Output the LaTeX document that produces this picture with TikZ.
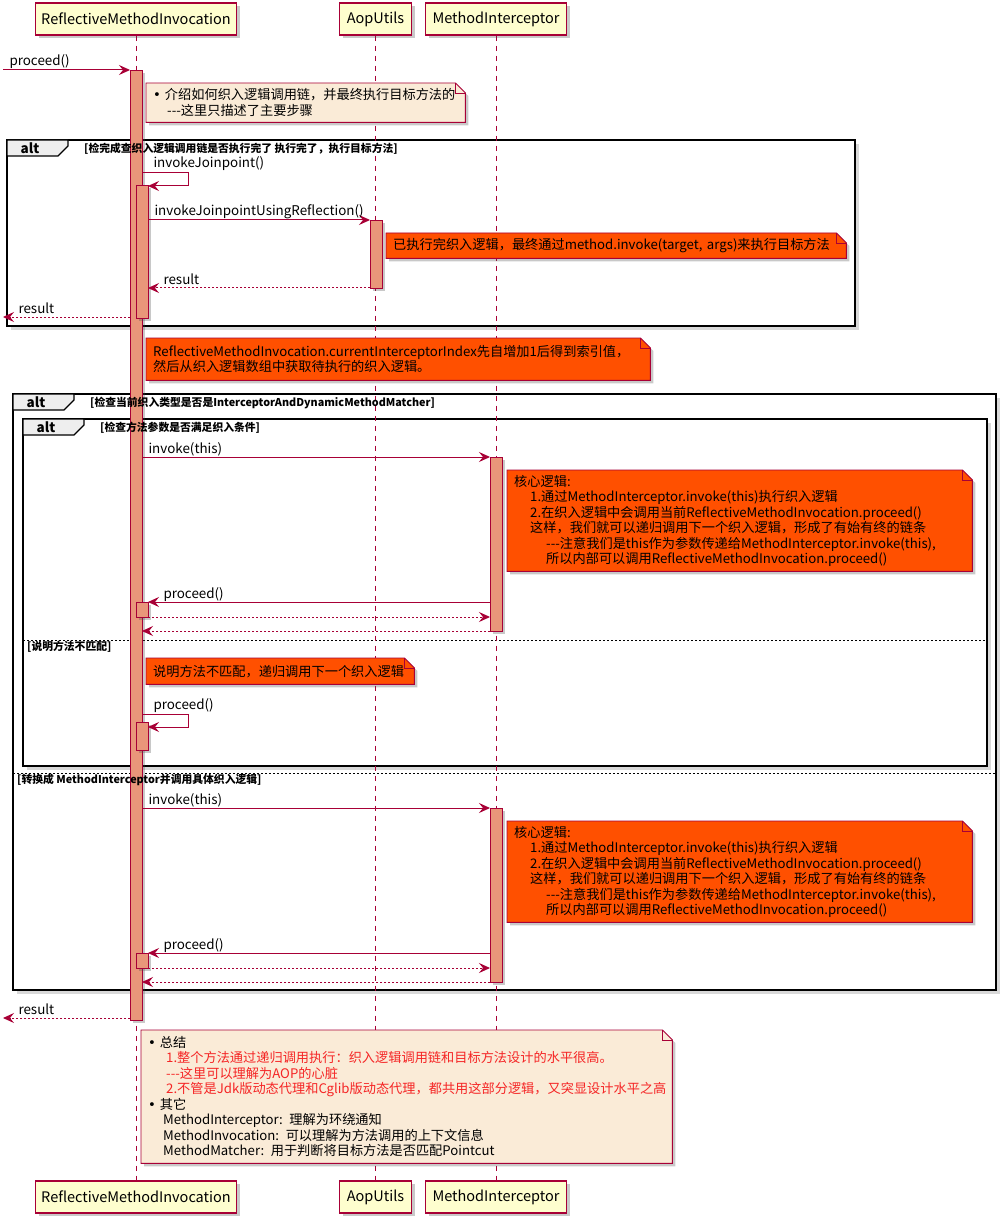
\documentclass[tikz,border=0pt]{standalone}
\usepackage{fontspec}
\newfontfamily\umlfont{Noto Sans CJK SC}
\newfontfamily\dotfont{DejaVu Sans}
\usetikzlibrary{arrows.meta, positioning, shadows}

\definecolor{umlred}{HTML}{A80036}
\definecolor{partfill}{HTML}{FEFECE}
\definecolor{actfill}{HTML}{E9967A}
\definecolor{hotnote}{HTML}{FF5000}
\definecolor{calmnote}{HTML}{FAEBD7}
\definecolor{tabfill}{HTML}{EEEEEE}
\definecolor{warnred}{HTML}{F52525}

\pgfdeclarelayer{back}
\pgfdeclarelayer{paper}
\pgfsetlayers{back,paper,main}

\tikzset{
x=1pt, y=-1pt, % one unit is one pixel of the sketch, y grows downwards
umlshadow/.style={drop shadow={shadow xshift=3pt, shadow yshift=-3pt, opacity=0.3, fill=black!70}},
participant/.style={draw=umlred, fill=partfill, line width=1.2pt, minimum height=32pt, inner sep=0pt, font=\umlfont\fontsize{14.5}{17}\selectfont, umlshadow},
lifeline/.style={umlred, line width=0.9pt, dash pattern=on 5pt off 5pt},
actbar/.style={draw=umlred, fill=actfill, line width=0.9pt, umlshadow},
msg/.style={umlred, line width=1pt, -{Stealth[length=11pt, width=10pt, inset=4pt]}},
ret/.style={msg, dash pattern=on 2pt off 2pt},
msglabel/.style={font=\umlfont\fontsize{13.4}{16}\selectfont, text=black, anchor=base west, inner sep=0pt, yshift=4pt},
calllabel/.style={msglabel, pos=0, xshift=6pt},
retlabel/.style={msglabel, pos=1, xshift=15pt},
selflabel/.style={msglabel, pos=0, xshift=11pt, yshift=1pt},
frame/.style={draw=black, line width=1.8pt, fill=white, drop shadow={shadow xshift=4pt, shadow yshift=-4pt, opacity=0.3}},
split/.style={draw=black, line width=0.8pt, dash pattern=on 2pt off 2pt},
alttab/.style={draw=black, line width=1.2pt, fill=tabfill},
altword/.style={font=\umlfont\bfseries\fontsize{13.5}{15}\selectfont, inner sep=0pt},
guard/.style={font=\umlfont\bfseries\fontsize{10.8}{13}\selectfont, anchor=west, inner sep=0pt},
notebody/.style={draw=umlred, line width=0.9pt, umlshadow},
notefold/.style={draw=umlred, line width=0.9pt},
notetext/.style={font=\umlfont\fontsize{13.2}{15.5}\selectfont, align=left, anchor=north west, inner xsep=7pt, inner ysep=0pt},
}

% dog-eared paper behind a note node
\newcommand\notebg[2]{%
  \begin{pgfonlayer}{paper}
    \filldraw[notebody, fill=#2] (#1.north west) -- ([xshift=-10pt]#1.north east)
      -- ([yshift=-10pt]#1.north east) -- (#1.south east) -- (#1.south west) -- cycle;
    \draw[notefold] ([xshift=-10pt]#1.north east) |- ([yshift=-10pt]#1.north east);
  \end{pgfonlayer}}

% alt tab and guard of a fragment whose corner is at (#2,#3)
\newcommand\altbox[4]{%
  \draw[alttab] (#2,#3) -- ++(61,0) -- ++(0,6) -- ++(-10,10) -- ++(-51,0) -- cycle;
  \node[altword] (#1) at ({#2+23},{#3+8}) {alt};
  \node[guard] (#1g) at ({#2+77},{#3+8.5}) {#4};}

\newcommand\bul{{\dotfont •}\hspace{4pt}}

\newcommand\corelogic{核心逻辑:\\
\hspace*{16pt}1.通过MethodInterceptor.invoke(this)执行织入逻辑\\
\hspace*{16pt}2.在织入逻辑中会调用当前ReflectiveMethodInvocation.proceed()\\
\hspace*{16pt}这样，我们就可以递归调用下一个织入逻辑，形成了有始有终的链条\\
\hspace*{32pt}---注意我们是this作为参数传递给MethodInterceptor.invoke(this),\\
\hspace*{32pt}所以内部可以调用ReflectiveMethodInvocation.proceed()}

\begin{document}
\begin{tikzpicture}
\useasboundingbox (0,0) rectangle (1006,1222);

% participants
\node[participant, minimum width=201pt] (rmiTop) at (136,19) {ReflectiveMethodInvocation};
\node[participant, minimum width=72pt] (aopTop) at (375.5,19) {AopUtils};
\node[participant, minimum width=141pt] (miTop) at (496,19) {MethodInterceptor};
\node[participant, minimum width=201pt] (rmiBot) at (136,1197) {ReflectiveMethodInvocation};
\node[participant, minimum width=72pt] (aopBot) at (375.5,1197) {AopUtils};
\node[participant, minimum width=141pt] (miBot) at (496,1197) {MethodInterceptor};

% fragments and lifelines
\begin{pgfonlayer}{back}
  \draw[frame] (7,140) rectangle (855,326);
  \draw[frame] (13,394) rectangle (996,990);
  \draw[frame] (23,419) rectangle (987,766);
  \draw[split] (23,640) -- (987,640);
  \draw[split] (13,773) -- (996,773);
  \draw[lifeline] (rmiTop) -- (rmiBot);
  \draw[lifeline] (aopTop) -- (aopBot);
  \draw[lifeline] (miTop) -- (miBot);
\end{pgfonlayer}

% activations
\draw[actbar] (130,70) rectangle (142,1020);
\draw[actbar] (136,185) rectangle (148,318);
\draw[actbar] (370,220) rectangle (382,288);
\draw[actbar] (136,722) rectangle (148,750);

\altbox{check}{7}{140}{[检完成查织入逻辑调用链是否执行完了 执行完了，执行目标方法]}
\altbox{kind}{13}{394}{[检查当前织入类型是否是InterceptorAndDynamicMethodMatcher]}
\altbox{match}{23}{419}{[检查方法参数是否满足织入条件]}
\node[guard] (mismatch) at (27,647) {[说明方法不匹配]};
\node[guard] (convert) at (17,780) {[转换成 MethodInterceptor并调用具体织入逻辑]};

% notes
\node[notetext, minimum width=319pt, minimum height=39pt, text width=305pt] (intro) at (146,83)
  {\bul 介绍如何织入逻辑调用链，并最终执行目标方法的\\ \hspace*{14pt}---这里只描述了主要步骤};
\notebg{intro}{calmnote}
\node[notetext, minimum width=460pt, minimum height=25pt, text width=446pt] (reflnote) at (386,233)
  {已执行完织入逻辑，最终通过method.invoke(target, args)来执行目标方法};
\notebg{reflnote}{hotnote}
\node[notetext, minimum width=504pt, minimum height=42pt, text width=490pt] (indexnote) at (146,338)
  {ReflectiveMethodInvocation.currentInterceptorIndex先自增加1后得到索引值，\\然后从织入逻辑数组中获取待执行的织入逻辑。};
\notebg{indexnote}{hotnote}
\node[notetext, minimum width=268pt, minimum height=26pt, text width=254pt] (skipnote) at (146,658)
  {说明方法不匹配，递归调用下一个织入逻辑};
\notebg{skipnote}{hotnote}
\node[notetext, minimum width=531pt, minimum height=133pt, text width=517pt] (summary) at (141,1030) {%
  \bul 总结\\
  \hspace*{18pt}\textcolor{warnred}{1.整个方法通过递归调用执行：织入逻辑调用链和目标方法设计的水平很高。}\\
  \hspace*{18pt}\textcolor{warnred}{---这里可以理解为AOP的心脏}\\
  \hspace*{18pt}\textcolor{warnred}{2.不管是Jdk版动态代理和Cglib版动态代理，都共用这部分逻辑，又突显设计水平之高}\\
  \bul 其它\\
  \hspace*{15pt}MethodInterceptor: 理解为环绕通知\\
  \hspace*{15pt}MethodInvocation: 可以理解为方法调用的上下文信息\\
  \hspace*{15pt}MethodMatcher: 用于判断将目标方法是否匹配Pointcut};
\notebg{summary}{calmnote}

% messages
\coordinate (caller) at (3,70);
\coordinate (entry) at (130,70);
\draw[msg] (caller) -- node[calllabel]{proceed()} (entry);
\coordinate (jpOut) at (142,173);
\coordinate (jpIn) at (148,186);
\draw[msg] (jpOut) -- node[selflabel]{invokeJoinpoint()} ++(46,0) |- (jpIn);
\coordinate (reflOut) at (148,220);
\coordinate (reflIn) at (370,220);
\draw[msg] (reflOut) -- node[calllabel]{invokeJoinpointUsingReflection()} (reflIn);
\coordinate (resOut) at (370,288);
\coordinate (resIn) at (148,288);
\draw[ret] (resOut) -- node[retlabel]{result} (resIn);
\coordinate (leaveA) at (130,317);
\coordinate (callerA) at (3,317);
\draw[ret] (leaveA) -- node[retlabel]{result} (callerA);
\coordinate (skipOut) at (142,714);
\coordinate (skipIn) at (148,727);
\draw[msg] (skipOut) -- node[selflabel]{proceed()} ++(46,0) |- (skipIn);
\coordinate (leaveB) at (130,1018);
\coordinate (callerB) at (3,1018);
\draw[ret] (leaveB) -- node[retlabel]{result} (callerB);

% the two interceptor rounds
\foreach \dy/\k in {0/a, 351/b}{
  \draw[actbar] (490,{457+\dy}) rectangle (502,{631+\dy});
  \draw[actbar] (136,{602+\dy}) rectangle (148,{617+\dy});
  \node[notetext, minimum width=465pt, minimum height=101pt, text width=451pt] (core\k) at (507,{470+\dy}) {\corelogic};
  \notebg{core\k}{hotnote}
  \coordinate (call\k) at (142,{457+\dy});
  \coordinate (hit\k) at (490,{457+\dy});
  \coordinate (back\k) at (490,{602+\dy});
  \coordinate (reenter\k) at (148,{602+\dy});
  \coordinate (reexit\k) at (148,{617+\dy});
  \coordinate (rereturn\k) at (490,{617+\dy});
  \coordinate (out\k) at (490,{631+\dy});
  \coordinate (home\k) at (142,{631+\dy});
  \draw[msg] (call\k) -- node[calllabel]{invoke(this)} (hit\k);
  \draw[msg] (back\k) -- node[retlabel]{proceed()} (reenter\k);
  \draw[ret] (reexit\k) -- (rereturn\k);
  \draw[ret] (out\k) -- (home\k);
}
\end{tikzpicture}
\end{document}
